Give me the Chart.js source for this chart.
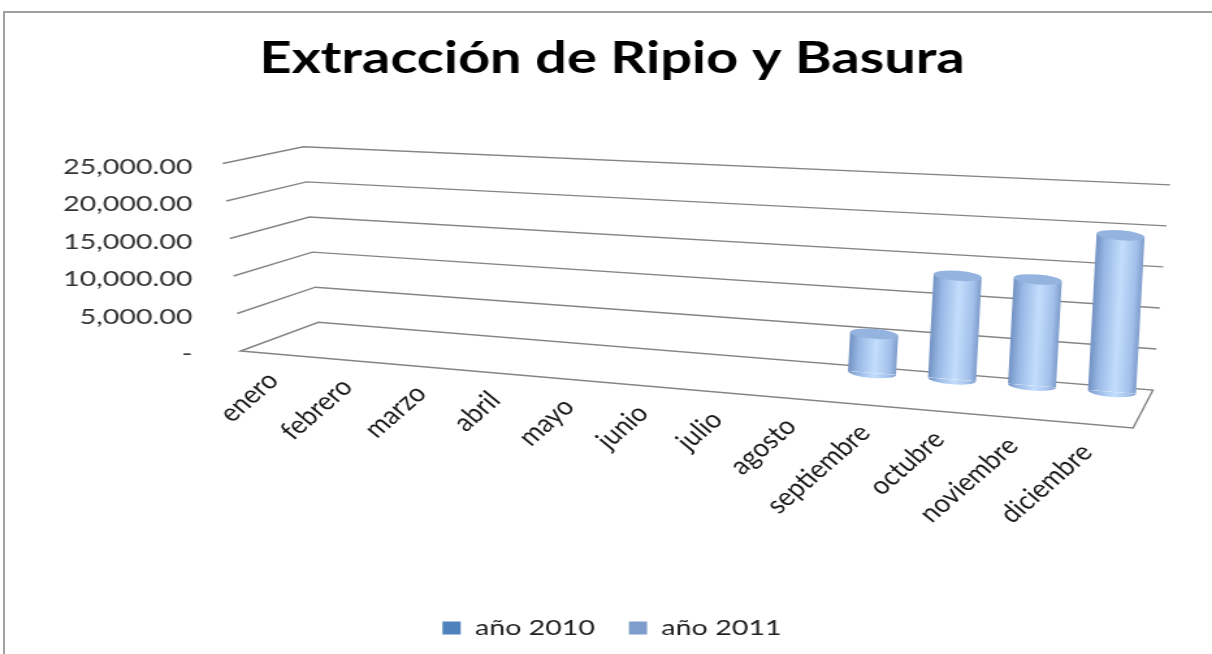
<!DOCTYPE html>
<html>
<head>
<meta charset="utf-8">
<script src="https://cdn.jsdelivr.net/npm/chart.js@4.4.1/dist/chart.umd.min.js"></script>
<style>
  html, body { margin: 0; padding: 0; background: #fff; overflow: hidden; }
  #frame { position: absolute; left: 3px; top: 11px; width: 1400px; height: 800px; border: 2px solid #a0a0a0; }
  #chart { position: absolute; left: 0; top: 0; }
</style>
</head>
<body>
<div id="frame"></div>
<!-- canvas is drawn narrow and stretched wide, like the exported picture -->
<canvas id="chart" width="932" height="654" style="width:1212px;height:654px"></canvas>
<script>
const months = ['enero', 'febrero', 'marzo', 'abril', 'mayo', 'junio', 'julio',
                'agosto', 'septiembre', 'octubre', 'noviembre', 'diciembre'];
const serie2010 = [null, null, null, null, null, null, null, null, null, null, null, null];
const serie2011 = [null, null, null, null, null, null, null, null, 4500, 11900, 12200, 18000];
const yTickValues = [0, 5000, 10000, 15000, 20000, 25000];
const Y_MAX = 25000;

const PAD_LEFT = 43;
const AXIS_W = 117;
const X_AXIS_H = 237;
const BAR_PCT = 0.6;

// fake perspective: bars sit on a sloping floor and lean a little,
// labels follow the front edge of the floor
const BAR_SHIFT_X = -12.36;
const BAR_LEAN = -0.049;
const BAR_SCALE_Y = 1.16;
const FLOOR_Y0 = 373, FLOOR_X0 = 670.6, FLOOR_SLOPE = 0.1027;
const LABEL_SCALE_X = 0.925, LABEL_SHIFT_X = 33.4, LABEL_SLOPE = 0.1064, LABEL_SHIFT_Y = -11.5;

const LINE = '#858585';
const FLAT_2011 = '#93b5e0';

function cylinderFill(c) {
    if (c.type !== 'data') return FLAT_2011;
    const xs = c.chart.scales.x;
    if (!xs) return FLAT_2011;
    const cx = xs.getPixelForValue(c.dataIndex);
    const half = xs.width / months.length * BAR_PCT / 2;
    if (!isFinite(cx) || !isFinite(half) || half <= 0) return FLAT_2011;
    const g = c.chart.ctx.createLinearGradient(cx - half, 0, cx + half, 0);
    g.addColorStop(0, '#7191c2');
    g.addColorStop(0.2, '#98b8e5');
    g.addColorStop(0.55, '#c3defd');
    g.addColorStop(0.85, '#a2c0ea');
    g.addColorStop(1, '#7f9dcc');
    return g;
}

function wallPoint(chart, v) {
    const ys = chart.scales.y;
    const t = v / Y_MAX;
    const py = ys.getPixelForValue(v);
    const p0 = ys.getPixelForValue(0);
    const left = chart.chartArea.left;
    return {
        front: [left + 25.1 - 13.84 * t, py - 3],
        corner: [left + 84.8 - 11.5 * t, 322.3 + (py - p0) * 0.936],
        end: [left + 726.6 + 13.1 * t, 390 + (py - p0) * 1.094]
    };
}

const box3d = {
    id: 'box3d',
    beforeDatasetsDraw(chart) {
        const ctx = chart.ctx;
        ctx.save();
        ctx.strokeStyle = LINE;
        ctx.lineWidth = 1.4;
        yTickValues.forEach(v => {
            const p = wallPoint(chart, v);
            ctx.beginPath();
            ctx.moveTo(p.front[0], p.front[1]);
            ctx.lineTo(p.corner[0], p.corner[1]);
            ctx.lineTo(p.end[0], p.end[1]);
            if (v === 0) {
                // floor outline
                ctx.lineTo(chart.chartArea.left + 711.3, 428);
                ctx.closePath();
            }
            ctx.stroke();
        });
        ctx.restore();

        // bars go onto the sloping floor
        const y0 = chart.scales.y.getPixelForValue(0);
        ctx.save();
        ctx.transform(1, FLOOR_SLOPE, BAR_LEAN, BAR_SCALE_Y, BAR_SHIFT_X - BAR_LEAN * y0,
            FLOOR_Y0 - BAR_SCALE_Y * y0 + FLOOR_SLOPE * (BAR_SHIFT_X - FLOOR_X0));
    },
    afterDatasetsDraw(chart) {
        const ctx = chart.ctx;
        const meta = chart.getDatasetMeta(1);
        meta.data.forEach((bar, i) => {
            if (serie2011[i] == null) return;
            const p = bar.getProps(['x', 'y', 'base', 'width'], true);
            const rx = p.width / 2, ry = 4.3;
            ctx.fillStyle = bar.options.backgroundColor;
            ctx.beginPath();
            ctx.ellipse(p.x, p.base, rx, ry, 0, 0, Math.PI);
            ctx.fill();
            ctx.fillStyle = '#94b4df';
            ctx.beginPath();
            ctx.ellipse(p.x, p.y, rx, ry, 0, 0, Math.PI * 2);
            ctx.fill();
        });
        ctx.restore();

        // month labels follow the front edge of the floor
        ctx.save();
        ctx.transform(LABEL_SCALE_X, LABEL_SLOPE, 0, 1, LABEL_SHIFT_X, LABEL_SHIFT_Y);
    },
    afterDraw(chart) {
        chart.ctx.restore();
    }
};

const data = {
    labels: months,
    datasets: [
        { label: 'año 2010', data: serie2010, backgroundColor: '#4f81bd' },
        { label: 'año 2011', data: serie2011, backgroundColor: cylinderFill }
    ]
};

const config = {
    type: 'bar',
    data: data,
    options: {
        responsive: false,
        animation: false,
        events: [],
        layout: { padding: { left: PAD_LEFT, right: 33.8, top: 0, bottom: 5 } },
        datasets: {
            bar: { grouped: false, barPercentage: BAR_PCT, categoryPercentage: 1, borderWidth: 0 }
        },
        scales: {
            x: {
                grid: { display: false, drawTicks: false },
                border: { display: false },
                ticks: {
                    z: 1,
                    autoSkip: false,
                    minRotation: 49,
                    maxRotation: 49,
                    padding: 4,
                    color: '#1a1a1a',
                    font: { family: 'Lato', size: 24 }
                },
                afterFit(scale) { scale.height = X_AXIS_H; }
            },
            y: {
                min: 0,
                max: Y_MAX,
                grid: { display: false, drawTicks: false },
                border: { display: false },
                afterBuildTicks(scale) { scale.ticks = yTickValues.map(v => ({ value: v })); },
                afterFit(scale) { scale.width = AXIS_W; },
                ticks: {
                    padding: 12,
                    color: '#333333',
                    font: { family: 'Lato', size: 22 },
                    callback: v => v === 0 ? '-' :
                        v.toLocaleString('en-US', { minimumFractionDigits: 2, maximumFractionDigits: 2 })
                }
            }
        },
        plugins: {
            title: {
                display: true,
                text: 'Extracción de Ripio y Basura',
                color: '#000000',
                font: { family: 'Lato', size: 43, weight: 'bold' },
                padding: { top: 33, bottom: 81.9 }
            },
            legend: {
                position: 'bottom',
                labels: {
                    boxWidth: 14,
                    boxHeight: 13,
                    padding: 26,
                    color: '#222222',
                    font: { family: 'Lato', size: 22 }
                }
            },
            tooltip: { enabled: false }
        }
    },
    plugins: [box3d]
};

new Chart(document.getElementById('chart'), config);
</script>
</body>
</html>
